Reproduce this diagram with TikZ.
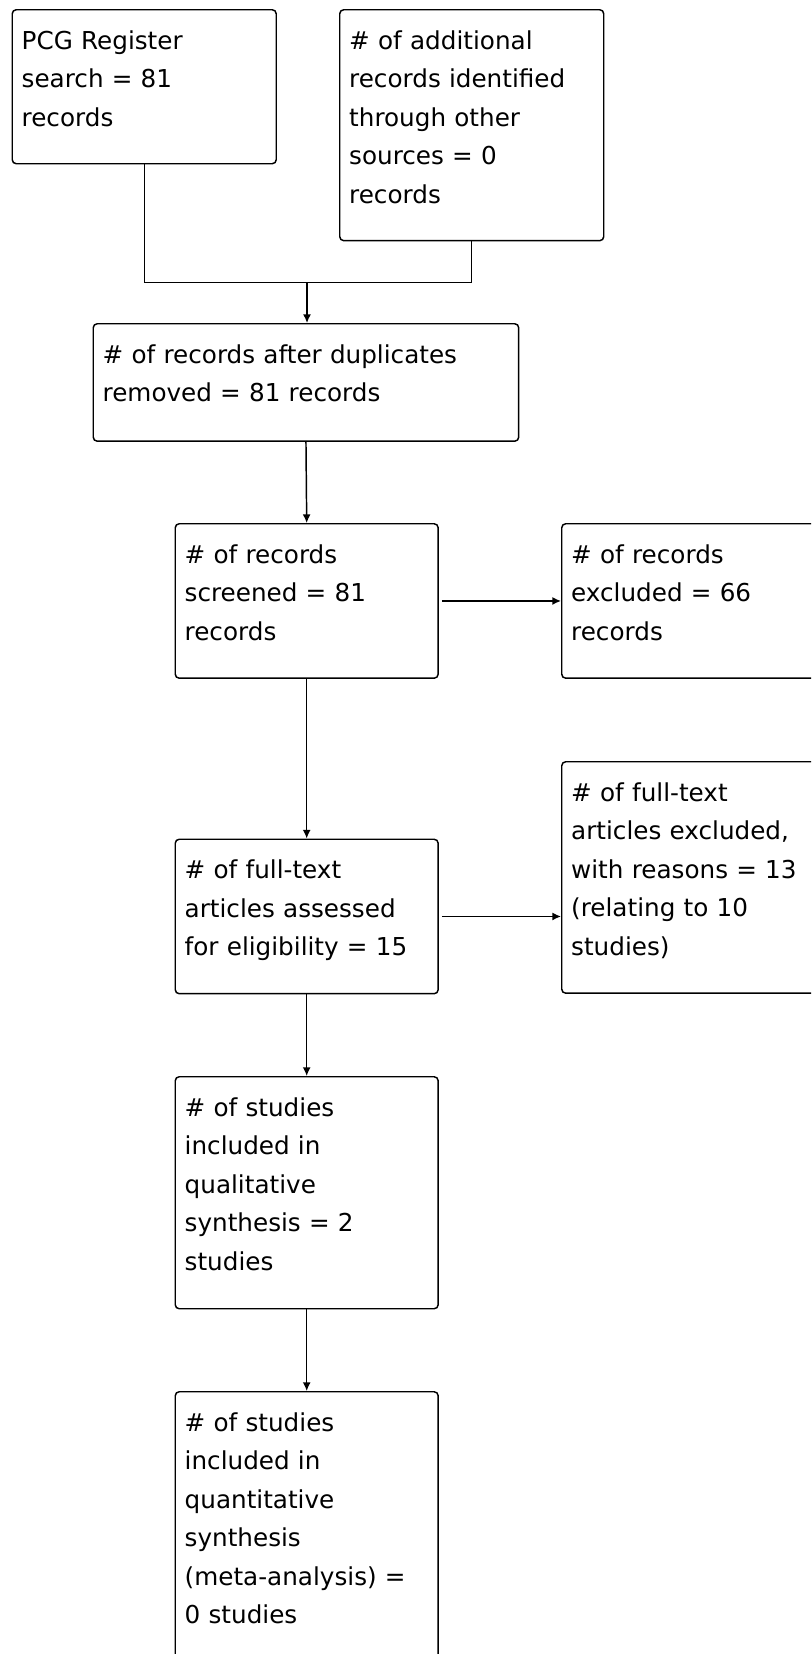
\documentclass[tikz,border=0pt]{standalone}
\usepackage{fontspec}
\setmainfont{DejaVu Sans}
\usetikzlibrary{arrows.meta}
\tikzset{
  box/.style={draw=black, line width=1.1pt, rounded corners=3pt, anchor=north west,
    inner xsep=7.1pt, inner ysep=0pt, align=left, text height=29.6pt,
    font=\fontsize{18.5pt}{28.9pt}\selectfont},
  conn/.style={draw=black, line width=1.1pt},
  arr/.style={conn, -{Latex[length=6.5pt,width=6pt]}}
}
\begin{document}
\begin{tikzpicture}[x=0.75pt,y=-0.75pt]
\clip (0,0) rectangle (811,1654);
\fill[white] (0,0) rectangle (811,1654);
\node[box, text width=183.8pt, text depth=85.9pt] (b1) at (11.5,9)
  {PCG Register\\search = 81\\records};
\node[box, text width=183.8pt, text depth=143.6pt] (b2) at (339,9)
  {\# of additional\\records identified\\through other\\sources = 0\\records};
\node[box, text width=304.9pt, text depth=58.5pt] (b3) at (92.5,323)
  {\# of records after duplicates\\removed = 81 records};
\node[box, text width=183pt, text depth=86.25pt] (b4) at (174.5,523)
  {\# of records\\screened = 81\\records};
\node[box, text width=188.3pt, text depth=86.25pt] (b5) at (561,523)
  {\# of records\\excluded = 66\\records};
\node[box, text width=183pt, text depth=86.25pt] (b6) at (174.5,838.5)
  {\# of full-text\\articles assessed\\for eligibility = 15};
\node[box, text width=188.3pt, text depth=144pt] (b7) at (561,761)
  {\# of full-text\\articles excluded,\\with reasons = 13\\(relating to 10\\studies)};
\node[box, text width=183pt, text depth=144.4pt] (b8) at (174.5,1076)
  {\# of studies\\included in\\qualitative\\synthesis = 2\\studies};
\node[box, text width=183pt, text depth=195.4pt] (b9) at (174.5,1391)
  {\# of studies\\included in\\quantitative\\synthesis\\(meta-analysis) =\\0 studies};
\coordinate (j) at (307,282.5);
\draw[conn] (b1.south) |- (j) -| (b2.south);
\draw[arr] (j) -- (b3.north -| j);
\draw[arr] (b3.south) -- (b4.north);
\draw[arr, shorten <=2.2pt] (b4.east) -- (b5.west);
\draw[arr] (b4.south) -- (b6.north);
\draw[arr, shorten <=2.2pt] (b6.east) -- (b6.east -| b7.west);
\draw[arr] (b6.south) -- (b8.north);
\draw[arr] (b8.south) -- (b9.north);
\end{tikzpicture}
\end{document}
